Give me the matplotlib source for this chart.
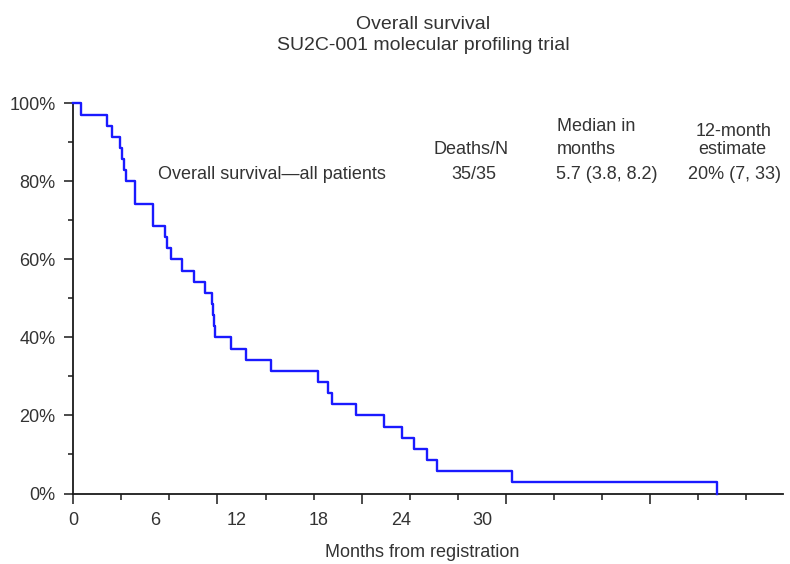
import numpy as np
import matplotlib
matplotlib.use("Agg")
import matplotlib.pyplot as plt
from matplotlib.ticker import FixedLocator, FuncFormatter

plt.rcParams['font.family'] = ['Liberation Sans', 'DejaVu Sans']

# ---- data ----
event_months = [0, 0.59, 2.45, 2.86, 3.44, 3.59, 3.71, 3.88, 4.50, 5.86, 6.72, 6.84,
                7.14, 7.99, 8.84, 9.65, 10.14, 10.26, 10.31, 10.38, 11.53, 12.63,
                14.46, 17.96, 18.64, 18.93, 20.73, 22.76, 24.10, 24.96, 25.93, 26.62,
                32.16, 47.14]
survival_pct = [100, 97.1, 94.3, 91.4, 88.6, 85.7, 82.9, 80.0, 74.3, 68.6, 65.7, 62.9,
                60.0, 57.1, 54.3, 51.4, 48.6, 45.7, 42.9, 40.0, 37.1, 34.3,
                31.4, 28.6, 25.7, 22.9, 20.0, 17.1, 14.3, 11.4, 8.6, 5.7,
                2.9, 0]
x_tick_labels = [0, 6, 12, 18, 24, 30]
y_ticks = [0, 20, 40, 60, 80, 100]
y_minor = [10, 30, 50, 70, 90]

title_lines = ["Overall survival", "SU2C-001 molecular profiling trial"]
group_label = "Overall survival\u2014all patients"
deaths_n = "35/35"
median_txt = "5.7 (3.8, 8.2)"
est12_txt = "20% (7, 33)"

# ---- figure ----
W, H = 790, 564
fig = plt.figure(figsize=(W / 100, H / 100), dpi=100)
left, right, top, bottom = 73.3, 783, 103.3, 493.5
ax = fig.add_axes([left / W, 1 - bottom / H, (right - left) / W, (bottom - top) / H])

px_per_month = 13.65
xmax = (right - left) / px_per_month
ax.set_xlim(0, xmax)
ax.set_ylim(0, 100)

ax.step(event_months, survival_pct, where='post', color='#1a1aff', lw=1.7,
        clip_on=False, zorder=3)

for s in ['top', 'right']:
    ax.spines[s].set_visible(False)
for s in ['left', 'bottom']:
    ax.spines[s].set_linewidth(1.3)
    ax.spines[s].set_color('#1a1a1a')

# x ticks: drawn ticks (no labels) at even spacing, major every third
tick_step = 48.05 / px_per_month
all_ticks = np.arange(15) * tick_step
major = all_ticks[::3]
minor = [t for i, t in enumerate(all_ticks) if i % 3 != 0]
ax.xaxis.set_major_locator(FixedLocator(major))
ax.xaxis.set_minor_locator(FixedLocator(minor))
ax.xaxis.set_major_formatter(FuncFormatter(lambda v, p: ""))
ax.tick_params(axis='x', which='major', length=7.2, width=1.1, color='#1a1a1a')
ax.tick_params(axis='x', which='minor', length=4.3, width=1.1, color='#1a1a1a')

xt = ax.get_xaxis_transform()
base_y = (bottom - 525) / (bottom - top)
for v in x_tick_labels:
    ax.text(v, base_y, str(v), transform=xt, ha='center', va='baseline',
            fontsize=13, color='#333333')

# y ticks
ax.yaxis.set_major_locator(FixedLocator(y_ticks))
ax.yaxis.set_minor_locator(FixedLocator(y_minor))
ax.yaxis.set_major_formatter(FuncFormatter(lambda v, p: f"{int(v)}%"))
ax.tick_params(axis='y', which='major', length=6.7, width=1.1, color='#1a1a1a',
               labelsize=13, labelcolor='#333333', pad=6)
ax.tick_params(axis='y', which='minor', length=3.6, width=1.1, color='#1a1a1a')


def ft(x, y, s, **kw):
    kw.setdefault('fontsize', 13)
    kw.setdefault('color', '#333333')
    kw.setdefault('va', 'baseline')
    fig.text(x / W, 1 - y / H, s, **kw)


ft(423, 29, title_lines[0], ha='center', fontsize=14)
ft(423, 49.5, title_lines[1], ha='center', fontsize=14)

ft(271.5, 179, group_label, ha='center')
ft(471, 154.5, "Deaths/N", ha='center')
ft(474, 179.5, deaths_n, ha='center')
ft(557, 131, "Median in", ha='left')
ft(557, 153.5, "months", ha='left')
ft(556, 179.5, median_txt, ha='left')
ft(734, 136, "12-month", ha='center')
ft(732, 153.5, "estimate", ha='center')
ft(734.5, 179.5, est12_txt, ha='center')

ft(422.5, 557, "Months from registration", ha='center')

fig.savefig("out.png", dpi=100)
